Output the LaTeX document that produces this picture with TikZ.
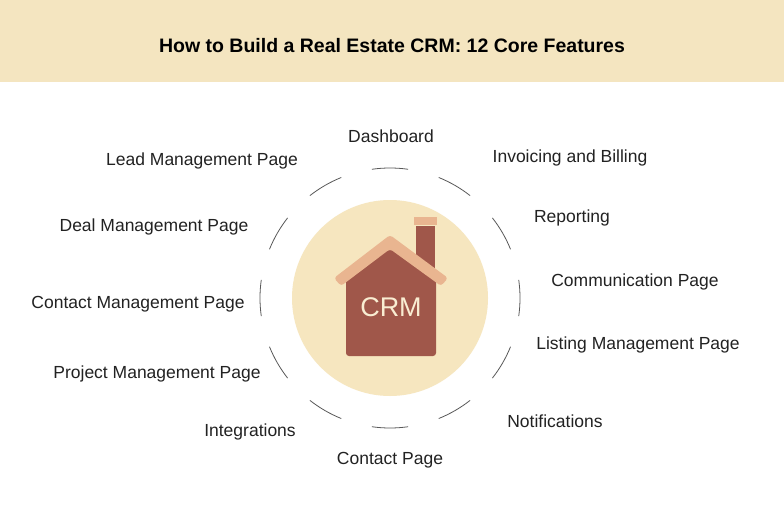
\documentclass[tikz,border=0pt]{standalone}
\usepackage{fontspec}
\setmainfont{Liberation Sans}
\usetikzlibrary{calc}
\definecolor{band}{HTML}{F4E5C0}
\definecolor{disc}{HTML}{F6E6BF}
\definecolor{brick}{HTML}{A0574A}
\definecolor{roof}{HTML}{E9B590}
\definecolor{txt}{HTML}{222222}
\begin{document}
\begin{tikzpicture}[x=1pt,y=-1pt,
  lab/.style={font=\fontsize{17.5}{19}\selectfont,text=txt,inner sep=0pt},
  ring/.style={draw=black!65,line width=0.8pt}]
\useasboundingbox (0,0) rectangle (784,508);
\fill[white] (0,0) rectangle (784,508);
\fill[band] (0,0) rectangle (784,82);
\node[font=\fontsize{19.5}{22}\selectfont\bfseries,text=black] (title) at (392,46) {How to Build a Real Estate CRM: 12 Core Features};
\coordinate (c) at (390,298);
\fill[disc] (c) circle[radius=98pt];
\foreach \a in {0,30,...,330}{
  \draw[ring] ($(c)+(\a-8:130pt)$) arc[start angle=\a-8,end angle=\a+8,radius=130pt];
}
% house
\fill[brick] (416,226) rectangle (435,272);
\fill[roof] (414,217) rectangle (437,225);
\fill[brick,rounded corners=3pt] (346,356) -- (346,276) -- (390,245) -- (436,276) -- (436,356) -- cycle;
\fill[roof,rounded corners=3pt] (334,278) -- (390,235) -- (448,278) -- (441,286) -- (390,249) -- (341,286) -- cycle;
\node[font=\fontsize{27}{29}\selectfont,text=disc!70!white] (crm) at (391,307) {CRM};
\node[lab] (n1) at (391,136) {Dashboard};
\node[lab] (n2) at (570,158) {Invoicing and Billing};
\node[lab] (n3) at (572,218) {Reporting};
\node[lab] (n4) at (635,282) {Communication Page};
\node[lab] (n5) at (638,345) {Listing Management Page};
\node[lab] (n6) at (555,421) {Notifications};
\node[lab] (n7) at (390,460) {Contact Page};
\node[lab] (n8) at (250,432) {Integrations};
\node[lab] (n9) at (157,374) {Project Management Page};
\node[lab] (n10) at (138,304) {Contact Management Page};
\node[lab] (n11) at (154,227) {Deal Management Page};
\node[lab] (n12) at (202,161) {Lead Management Page};
\end{tikzpicture}
\end{document}
